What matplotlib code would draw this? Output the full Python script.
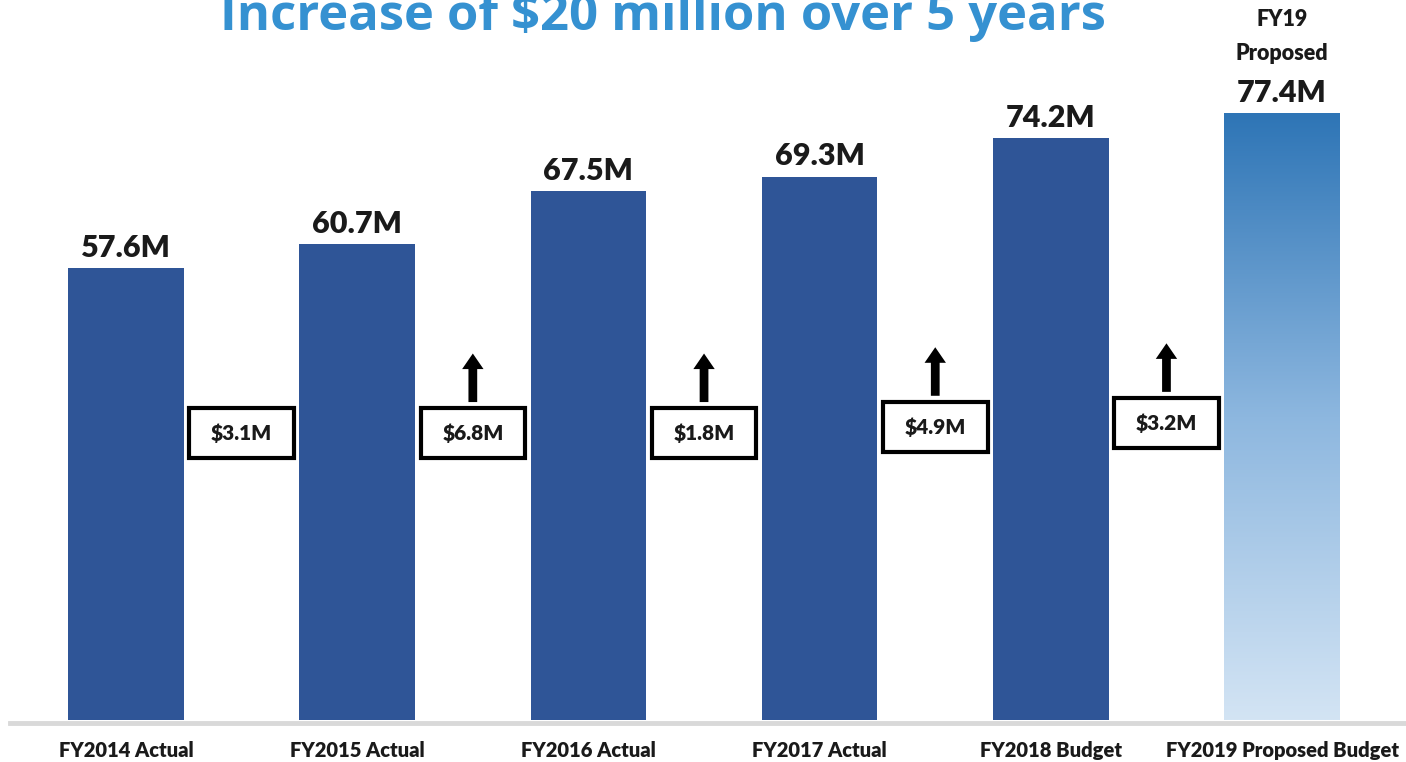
import matplotlib
matplotlib.use("Agg")
import matplotlib.pyplot as plt
import numpy as np
from matplotlib.colors import LinearSegmentedColormap
from matplotlib.patches import Rectangle

# budget by fiscal year, in millions
categories = ["FY2014 Actual", "FY2015 Actual", "FY2016 Actual",
              "FY2017 Actual", "FY2018 Budget", "FY2019 Proposed Budget"]
budget = [57.6, 60.7, 67.5, 69.3, 74.2, 77.4]
# year-over-year step boxes: vertical centre and whether an arrow sits on top
step_box_y = [36.6, 36.6, 36.6, 37.4, 37.9]
step_arrow = [False, True, True, True, True]

BAR_BLUE = "#2F5597"
TITLE_BLUE = "#3591D1"
LABEL_FONT = "Lato"

fig = plt.figure(figsize=(14.06, 7.62), dpi=100)
ax = fig.add_axes([0, 0, 1, 1])
ax.set_xlim(-0.545, 5.536)
ax.set_ylim(-5.36, 91.84)
ax.axis("off")

x = np.arange(len(budget))
bars = ax.bar(x, budget, width=0.5, color=BAR_BLUE, zorder=2)

# proposed year gets a vertical gradient instead of a flat fill
last = bars[-1]
last.set_facecolor("none")
grad = LinearSegmentedColormap.from_list("prop", ["#D3E4F4", "#8DB7DF", "#2E75B6"])
img = ax.imshow(np.linspace(0, 1, 256).reshape(-1, 1), cmap=grad, origin="lower",
                aspect="auto", zorder=2,
                extent=[x[-1] - 0.25, x[-1] + 0.25, 0, budget[-1]])
img.set_clip_path(last)

# baseline
ax.axhline(-0.35, xmin=10 / 1406, xmax=1, color="#D9D9D9", lw=3.5, zorder=1)

for xi, v in zip(x, budget):
    ax.text(xi, v + 0.8, f"{v:.1f}M", ha="center", va="bottom",
            fontsize=22, fontweight="heavy", family=LABEL_FONT, color="#1a1a1a")

for xi, name in zip(x, categories):
    ax.text(xi, -3.9, name, ha="center", va="center", fontsize=14.5,
            fontweight="heavy", family=LABEL_FONT, color="#1a1a1a")

ax.text(x[-1], 87.2, "FY19\nProposed", ha="center", va="center", fontsize=15.5,
        fontweight="heavy", family=LABEL_FONT, color="#1a1a1a", linespacing=1.75)

# increase boxes between bars
bw, bh = 0.452, 6.4
for i in range(len(budget) - 1):
    cx = (x[i] + x[i + 1]) / 2
    cy = step_box_y[i]
    diff = budget[i + 1] - budget[i]
    ax.add_patch(Rectangle((cx - bw / 2, cy - bh / 2), bw, bh, facecolor="white",
                           edgecolor="black", lw=3, zorder=3))
    ax.text(cx, cy, f"${diff:.1f}M", ha="center", va="center", fontsize=15,
            fontweight="heavy", family=LABEL_FONT, color="#1a1a1a", zorder=4)
    if step_arrow[i]:
        ax.annotate("", xy=(cx, cy + bh / 2 + 7.3), xytext=(cx, cy + bh / 2 + 0.4),
                    arrowprops=dict(arrowstyle="simple,head_width=1.1,head_length=0.8,tail_width=0.45",
                                    mutation_scale=14, color="black", lw=0),
                    zorder=4)

fig.text(663 / 1406, 1 - 30 / 762, "Increase of $20 million over 5 years",
         ha="center", va="baseline", fontsize=36.5, fontweight="bold",
         family="Open Sans", color=TITLE_BLUE)

fig.savefig("out.png", dpi=100)
